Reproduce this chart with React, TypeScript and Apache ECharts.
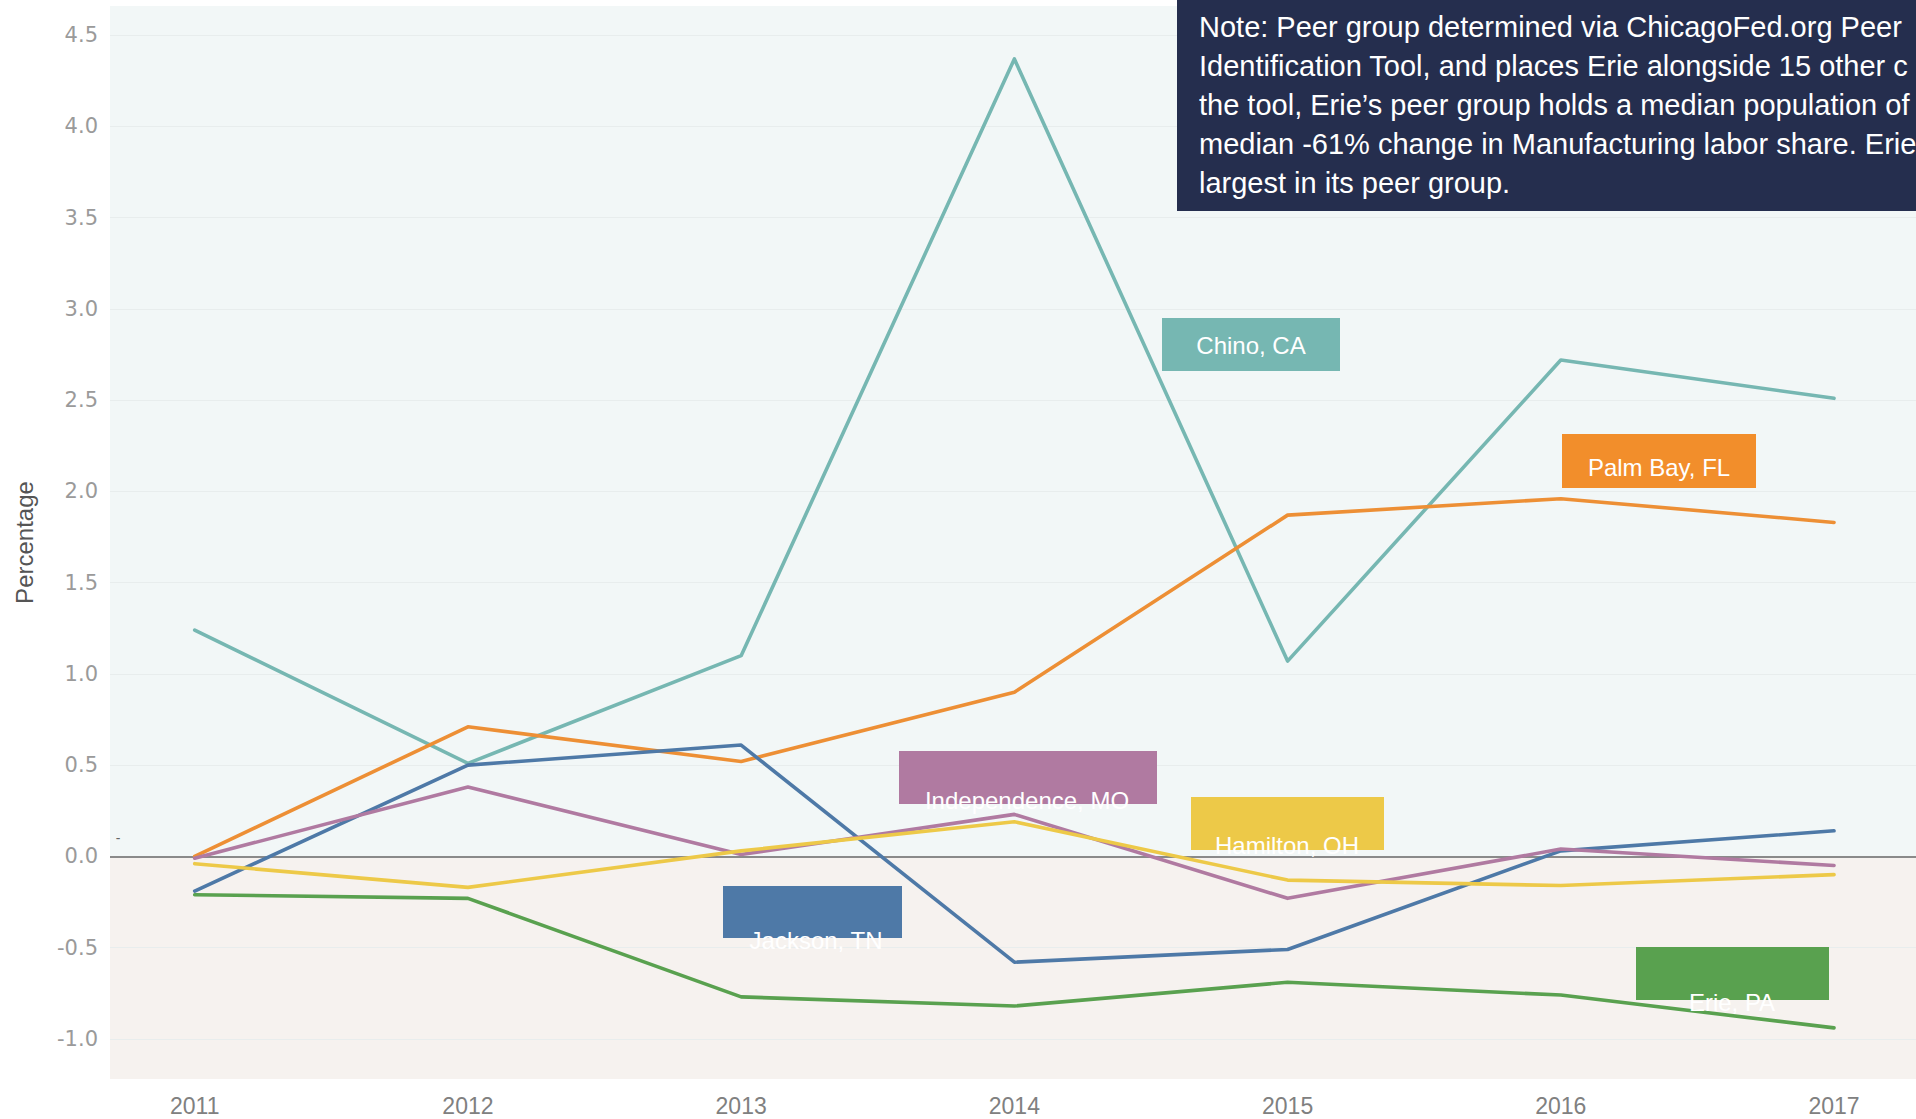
import React, { useEffect, useRef } from "react";
import * as echarts from "echarts";

const years = [2011, 2012, 2013, 2014, 2015, 2016, 2017];
const chino = [1.24, 0.51, 1.1, 4.37, 1.07, 2.72, 2.51];
const palmBay = [0.0, 0.71, 0.52, 0.9, 1.87, 1.96, 1.83];
const jackson = [-0.19, 0.5, 0.61, -0.58, -0.51, 0.03, 0.14];
const independence = [-0.01, 0.38, 0.01, 0.23, -0.23, 0.04, -0.05];
const hamilton = [-0.04, -0.17, 0.03, 0.19, -0.13, -0.16, -0.1];
const erie = [-0.21, -0.23, -0.77, -0.82, -0.69, -0.76, -0.94];
const yTicks = [-1, -0.5, 0, 0.5, 1, 1.5, 2, 2.5, 3, 3.5, 4, 4.5];

const seriesNames = ["Chino, CA", "Palm Bay, FL", "Jackson, TN", "Independence, MO", "Hamilton, OH", "Erie, PA"];
const seriesValues = [chino, palmBay, jackson, independence, hamilton, erie];
const seriesColors = ["#76b7b2", "#ed8f35", "#4e79a7", "#b07aa1", "#edc948", "#59a14f"];

const noteLines = [
  "Note: Peer group determined via ChicagoFed.org Peer",
  "Identification Tool, and places Erie alongside 15 other c",
  "the tool, Erie\u2019s peer group holds a median population of",
  "median -61% change in Manufacturing labor share. Erie",
  "largest in its peer group.",
];

const Y_MIN = -1.22;
const Y_MAX = 4.66;

// label boxes: [name, color, x, y, w, h, textX, textY]
const labelBoxes: [string, string, number, number, number, number, number, number][] = [
  ["Chino, CA", "#76b7b2", 1162, 318, 178, 53, 1251, 345],
  ["Palm Bay, FL", "#f28e2b", 1562, 434, 194, 54, 1659, 467],
  ["Independence, MO", "#b07aa1", 899, 751, 258, 53, 1027, 800],
  ["Hamilton, OH", "#edc948", 1191, 797, 193, 53, 1287, 845],
  ["Jackson, TN", "#4e79a7", 723, 886, 179, 52, 816, 940],
  ["Erie, PA", "#59a14f", 1636, 947, 193, 53, 1732, 1002],
];

export default function App() {
  const ref = useRef<HTMLDivElement>(null);
  useEffect(() => {
    if (!ref.current) return;
    const chart = echarts.init(ref.current, null, { renderer: "svg" });

    const series: any[] = seriesNames.map((name, i) => ({
      name,
      type: "line",
      data: years.map((y, j) => [y, seriesValues[i][j]]),
      symbol: "none",
      lineStyle: { color: seriesColors[i], width: 3.6, cap: "round", join: "round" },
      itemStyle: { color: seriesColors[i] },
      z: 3,
    }));

    series.unshift({
      name: "background",
      type: "line",
      data: [],
      symbol: "none",
      z: 1,
      silent: true,
      markArea: {
        silent: true,
        z: 1,
        data: [
          [{ yAxis: 0, itemStyle: { color: "#f2f7f7" } }, { yAxis: Y_MAX }],
          [{ yAxis: Y_MIN, itemStyle: { color: "#f6f2ef" } }, { yAxis: 0 }],
        ],
      },
      markLine: {
        silent: true,
        z: 2,
        symbol: "none",
        label: { show: false },
        data: [
          ...yTicks.filter((t) => t !== 0).map((t) => ({ yAxis: t, lineStyle: { color: "#e8eded", width: 1, type: "solid" } })),
          { yAxis: 0, lineStyle: { color: "#8a8a8a", width: 2.2, type: "solid" } },
        ],
      },
    });

    const graphics: any[] = [];
    labelBoxes.forEach(([name, color, x, y, w, h, tx, ty]) => {
      graphics.push({
        type: "rect",
        shape: { x, y, width: w, height: h },
        style: { fill: color },
        z: 10,
      });
      graphics.push({
        type: "text",
        x: tx,
        y: ty,
        style: {
          text: name,
          fill: "#ffffff",
          font: "24px 'Liberation Sans', Arial, sans-serif",
          align: "center",
          verticalAlign: "middle",
        },
        z: 11,
      });
    });
    graphics.push({
      type: "rect",
      shape: { x: 1177, y: 0, width: 760, height: 211 },
      style: { fill: "#252e4e" },
      z: 20,
    });
    graphics.push({
      type: "text",
      x: 1199,
      y: 7,
      style: {
        text: noteLines.join("\n"),
        fill: "#ffffff",
        font: "29px 'Liberation Sans', Arial, sans-serif",
        lineHeight: 39,
        align: "left",
        verticalAlign: "top",
      },
      z: 21,
    });
    graphics.push({
      type: "text",
      x: 118,
      y: 838,
      style: { text: "-", fill: "#666666", font: "14px 'Liberation Sans', Arial, sans-serif", align: "center", verticalAlign: "middle" },
      z: 12,
    });

    chart.setOption({
      animation: false,
      backgroundColor: "#ffffff",
      grid: { left: 110, right: 0, top: 6, bottom: 40, containLabel: false },
      xAxis: {
        type: "value",
        min: 2010.69,
        max: 2017.3,
        axisLine: { show: false },
        axisTick: { show: false },
        splitLine: { show: false },
        axisLabel: {
          customValues: years,
          formatter: (v: number) => String(v),
          color: "#808080",
          fontSize: 23,
          fontFamily: "'Liberation Sans', Arial, sans-serif",
          margin: 15,
        },
      },
      yAxis: {
        type: "value",
        min: Y_MIN,
        max: Y_MAX,
        name: "Percentage",
        nameLocation: "middle",
        nameGap: 74,
        nameRotate: 90,
        nameTextStyle: { color: "#555555", fontSize: 24, fontFamily: "'Liberation Sans', Arial, sans-serif" },
        axisLine: { show: false },
        axisTick: { show: false },
        splitLine: { show: false },
        axisLabel: {
          customValues: yTicks,
          formatter: (v: number) => v.toFixed(1),
          color: "#9a9a9a",
          fontSize: 21,
          fontFamily: "'DejaVu Sans', sans-serif",
          margin: 12,
        },
      },
      series,
      graphic: graphics,
    });
    return () => chart.dispose();
  }, []);
  return <div ref={ref} style={{ position: "fixed", left: 0, top: 0, width: 1916, height: 1119 }} />;
}
